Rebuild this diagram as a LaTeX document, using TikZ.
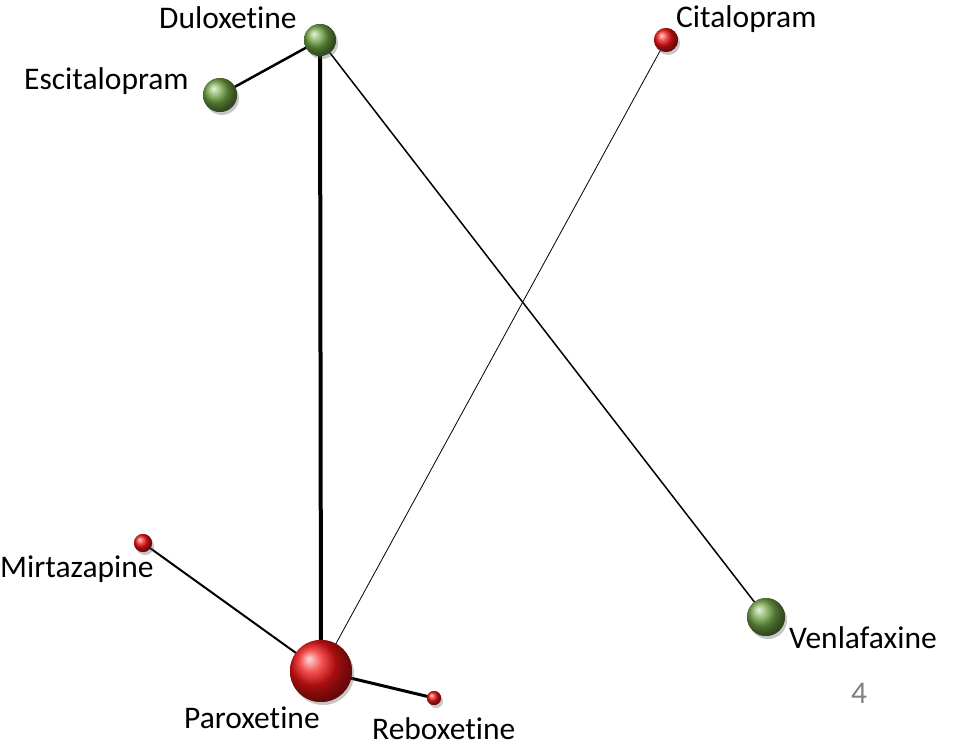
\documentclass[tikz,border=0pt]{standalone}
\usepackage{fontspec}
\setmainfont{Carlito}[Ligatures=NoCommon]
\usetikzlibrary{shadows}
\definecolor{ballgreen}{RGB}{115,165,70}
\definecolor{ballred}{RGB}{240,20,20}
\begin{document}
\begin{tikzpicture}[x=1pt,y=-1pt,
  gball/.style={circle,inner sep=0pt,ball color=ballgreen,draw=none,drop shadow={shadow xshift=2pt,shadow yshift=-3pt,opacity=0.25}},
  rball/.style={circle,inner sep=0pt,ball color=ballred,draw=none,drop shadow={shadow xshift=2pt,shadow yshift=-3pt,opacity=0.25}},
  lbl/.style={font=\fontsize{31.5}{35}\selectfont,inner sep=0pt,anchor=base west},
  edge/.style={draw=black,line cap=round}]
\useasboundingbox (0,0) rectangle (963,746);
% nodes
\node[gball,minimum size=32pt] (dul) at (320,40) {};
\node[gball,minimum size=34pt] (esc) at (220,95) {};
\node[rball,minimum size=24pt] (cit) at (666,40) {};
\node[rball,minimum size=18pt] (mir) at (143,543) {};
\node[rball,minimum size=62pt] (par) at (321,671) {};
\node[rball,minimum size=14pt] (reb) at (434,698) {};
\node[gball,minimum size=38pt] (ven) at (766,617) {};
% edges
\path[edge,line width=2.5pt] (dul) -- (esc);
\path[edge,line width=4pt] (dul) -- (par);
\path[edge,line width=1.5pt] (dul) -- (ven);
\path[edge,line width=0.8pt] (cit) -- (par);
\path[edge,line width=2pt] (mir) -- (par);
\path[edge,line width=3pt] (par) -- (reb);
% redraw balls on top of the connectors
\node[gball,minimum size=32pt] at (dul) {};
\node[gball,minimum size=34pt] at (esc) {};
\node[rball,minimum size=24pt] at (cit) {};
\node[rball,minimum size=18pt] at (mir) {};
\node[rball,minimum size=62pt] at (par) {};
\node[rball,minimum size=14pt] at (reb) {};
\node[gball,minimum size=38pt] at (ven) {};
% labels
\node[lbl] (tdul) at (159,29) {Duloxetine};
\node[lbl] (tesc) at (24,90) {Escitalopram};
\node[lbl] (tcit) at (676,28) {Citalopram};
\node[lbl] (tmir) at (0,577) {Mirtazapine};
\node[lbl] (tven) at (789,648) {Venlafaxine};
\node[lbl] (tpar) at (184,728) {Paroxetine};
\node[lbl] (treb) at (372,739) {Reboxetine};
\node[lbl,text=gray] (num) at (851,703) {4};
\end{tikzpicture}
\end{document}
